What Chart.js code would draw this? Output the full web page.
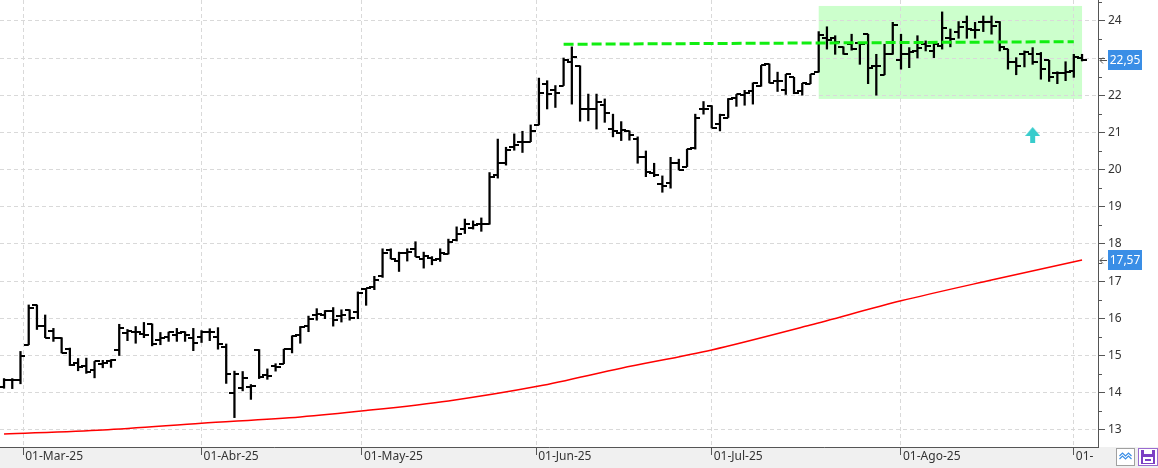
<!DOCTYPE html>
<html>
<head>
<meta charset="utf-8">
<title>Cotización</title>
<script src="https://cdn.jsdelivr.net/npm/chart.js@4.4.1/dist/chart.umd.min.js"></script>
<style>
    html, body { margin: 0; padding: 0; background: #fff; overflow: hidden; }
    canvas { display: block; }
</style>
</head>
<body>
<canvas id="priceCanvas" width="1158" height="468"></canvas>
<script>
// sessions shown on the chart (weekdays minus market holidays)
const firstDay = '2025-02-26';
const lastDay = '2025-09-02';
const holidays = ['2025-04-18', '2025-04-21', '2025-05-01'];
const monthNames = ['Ene', 'Feb', 'Mar', 'Abr', 'May', 'Jun', 'Jul', 'Ago', 'Sep', 'Oct', 'Nov', 'Dic'];

// daily OHLC, one value per session
const opens = [
    14.15, 14.35, 14.33, 15.29, 16.35, 15.8, 15.66, 15.48, 15.18, 14.8,
    14.73, 14.6, 14.78, 14.84, 15.15, 15.6, 15.64, 15.57, 15.85, 15.42,
    15.51, 15.54, 15.62, 15.48, 15.49, 15.63, 15.5, 15.23, 14.0, 14.12,
    14.15, 15.16, 14.47, 14.73, 14.78, 15.18, 15.56, 15.8, 16.1, 16.08,
    16.21, 16.05, 16.23, 16.17, 16.78, 16.84, 17.13, 17.84, 17.53, 17.75,
    17.87, 17.6, 17.62, 17.6, 17.73, 18.1, 18.4, 18.44, 18.53, 18.53,
    19.85, 20.17, 20.61, 20.75, 20.75, 21.2, 22.3, 22.14, 22.26, 22.9,
    22.79, 21.63, 21.63, 21.74, 21.09, 20.98, 21.04, 20.82, 20.35, 19.9,
    19.61, 19.63, 20.17, 20.08, 20.58, 21.63, 21.7, 21.22, 21.4, 21.93,
    22.0, 22.1, 22.24, 22.84, 22.37, 22.15, 22.48, 22.1, 22.31, 22.62,
    23.53, 23.53, 23.3, 23.39, 23.4, 23.64, 22.79, 22.55, 23.1, 22.94,
    23.1, 23.19, 23.37, 23.19, 23.33, 23.55, 23.69, 23.96, 23.75, 23.98,
    23.98, 23.98, 23.24, 22.88, 23.1, 23.12, 23.1, 22.94, 22.61, 22.61,
    22.65, 23.0
];
const highs = [
    14.38, 14.38, 15.11, 16.36, 16.36, 16.09, 15.73, 15.48, 15.2, 14.92,
    14.93, 14.84, 14.87, 14.89, 15.84, 15.7, 15.78, 15.89, 15.85, 15.62,
    15.63, 15.73, 15.64, 15.73, 15.67, 15.72, 15.75, 15.31, 14.58, 14.57,
    14.22, 15.16, 14.64, 14.78, 15.17, 15.53, 15.78, 16.06, 16.26, 16.21,
    16.29, 16.23, 16.23, 16.71, 16.8, 17.13, 17.87, 17.87, 17.78, 17.87,
    18.06, 17.78, 17.66, 17.87, 18.13, 18.46, 18.67, 18.62, 18.7, 19.92,
    20.82, 20.6, 20.96, 21.03, 21.2, 22.46, 22.39, 22.26, 23.0, 23.3,
    22.79, 22.03, 22.03, 21.9, 21.49, 21.29, 21.04, 20.88, 20.5, 20.17,
    19.83, 20.33, 20.28, 20.55, 21.49, 21.83, 21.72, 21.49, 21.91, 22.02,
    22.13, 22.33, 22.8, 22.84, 22.62, 22.56, 22.48, 22.32, 22.56, 23.71,
    23.84, 23.6, 23.3, 23.64, 23.42, 23.64, 23.1, 23.37, 23.96, 23.64,
    23.28, 23.6, 23.46, 23.42, 24.24, 23.78, 23.98, 24.13, 23.96, 24.13,
    24.13, 23.98, 23.24, 23.01, 23.19, 23.28, 23.15, 22.94, 22.63, 22.9,
    23.1, 23.1
];
const lows = [
    14.12, 14.11, 14.24, 15.29, 15.7, 15.48, 15.38, 15.07, 14.73, 14.59,
    14.52, 14.4, 14.67, 14.68, 15.0, 15.4, 15.33, 15.48, 15.26, 15.29,
    15.38, 15.38, 15.38, 15.13, 15.35, 15.4, 15.17, 14.25, 13.33, 14.05,
    13.82, 14.38, 14.36, 14.58, 14.78, 15.07, 15.33, 15.64, 15.95, 15.99,
    15.79, 15.9, 15.95, 15.99, 16.35, 16.77, 17.1, 17.6, 17.26, 17.54,
    17.66, 17.35, 17.44, 17.53, 17.73, 18.08, 18.28, 18.4, 18.34, 18.53,
    19.77, 20.12, 20.52, 20.46, 20.75, 21.2, 21.63, 21.67, 22.26, 21.76,
    21.3, 21.31, 21.09, 21.27, 20.88, 20.78, 20.79, 20.17, 19.81, 19.81,
    19.39, 19.5, 19.99, 20.08, 20.55, 21.49, 21.12, 21.04, 21.4, 21.7,
    21.73, 21.76, 22.24, 22.33, 22.1, 22.02, 22.04, 22.0, 22.31, 22.62,
    23.24, 23.1, 23.1, 23.21, 22.83, 22.31, 22.0, 22.55, 23.1, 22.7,
    22.74, 23.0, 23.19, 23.01, 23.24, 23.3, 23.53, 23.53, 23.53, 23.71,
    23.64, 23.19, 22.7, 22.55, 22.76, 22.83, 22.43, 22.37, 22.31, 22.39,
    22.48, 22.92
];
const closes = [
    14.33, 14.33, 15.0, 16.27, 15.8, 15.48, 15.48, 15.08, 14.75, 14.7,
    14.57, 14.84, 14.8, 14.88, 15.73, 15.67, 15.62, 15.55, 15.32, 15.47,
    15.62, 15.6, 15.54, 15.35, 15.63, 15.62, 15.32, 14.49, 14.5, 14.4,
    14.18, 14.43, 14.46, 14.68, 15.17, 15.53, 15.76, 15.98, 16.12, 16.2,
    15.95, 16.1, 16.0, 16.68, 16.81, 17.04, 17.75, 17.6, 17.75, 17.78,
    17.66, 17.68, 17.58, 17.75, 18.06, 18.26, 18.53, 18.52, 18.53, 19.79,
    20.19, 20.52, 20.66, 20.73, 21.03, 22.06, 22.03, 22.06, 22.95, 23.04,
    21.62, 21.63, 21.83, 21.52, 21.04, 21.07, 20.93, 20.35, 19.94, 19.85,
    19.55, 20.17, 19.99, 20.55, 21.39, 21.63, 21.12, 21.46, 21.91, 22.02,
    22.06, 22.33, 22.8, 22.33, 22.37, 22.56, 22.06, 22.32, 22.56, 23.62,
    23.48, 23.42, 23.12, 23.24, 23.38, 22.73, 22.79, 23.1, 23.89, 23.1,
    23.15, 23.28, 23.33, 23.37, 23.8, 23.5, 23.84, 23.78, 23.75, 23.98,
    23.87, 23.3, 22.88, 22.79, 23.15, 22.88, 22.7, 22.49, 22.6, 22.63,
    23.03, 22.95
];

// long moving average (red), read at a few sessions
const maDates = ['2025-02-26', '2025-03-14', '2025-04-01', '2025-04-17', '2025-05-02', '2025-05-16',
    '2025-06-02', '2025-06-16', '2025-07-01', '2025-07-17', '2025-08-01', '2025-08-18', '2025-09-02'];
const maValues = [12.89, 13.0, 13.18, 13.35, 13.52, 13.78, 14.18, 14.66, 15.15, 15.82, 16.47, 17.03, 17.57];

// green dashed resistance
const resistanceDates = ['2025-06-05', '2025-09-01'];
const resistanceValues = [23.37, 23.44];

// shaded range
const rangeDates = ['2025-07-18', '2025-09-02'];
const rangeValues = [21.9, 24.4];

// buy signal arrow
const signalDates = ['2025-08-25'];
const signalValues = [20.93];

const yMin = 12.54;
const yMax = 24.56;

function buildSessions() {
    const out = [];
    const d = new Date(firstDay + 'T12:00:00Z');
    const end = new Date(lastDay + 'T12:00:00Z');
    while (d <= end) {
        const iso = d.toISOString().slice(0, 10);
        const wd = d.getUTCDay();
        if (wd !== 0 && wd !== 6 && !holidays.includes(iso)) out.push(iso);
        d.setUTCDate(d.getUTCDate() + 1);
    }
    return out;
}
const sessions = buildSessions();
const idx = (date) => sessions.indexOf(date);

// the 1st of every month, placed between sessions by calendar time
function buildMonthTicks() {
    const list = [];
    const start = new Date(sessions[0] + 'T12:00:00Z');
    const end = new Date(sessions[sessions.length - 1] + 'T12:00:00Z');
    let m = new Date(Date.UTC(start.getUTCFullYear(), start.getUTCMonth() + 1, 1, 12));
    while (m <= end) {
        const iso = m.toISOString().slice(0, 10);
        const i = sessions.findIndex(s => s >= iso);
        let pos = i;
        if (sessions[i] !== iso) {
            const a = new Date(sessions[i - 1] + 'T12:00:00Z');
            const b = new Date(sessions[i] + 'T12:00:00Z');
            pos = i - 1 + (m - a) / (b - a);
        }
        list.push({ value: pos, label: '01-' + monthNames[m.getUTCMonth()] + '-' + String(m.getUTCFullYear()).slice(2) });
        m = new Date(Date.UTC(m.getUTCFullYear(), m.getUTCMonth() + 1, 1, 12));
    }
    return list;
}
const monthTicks = buildMonthTicks();

// small canvases used as point styles
function tickImage(left) {
    const c = document.createElement('canvas');
    c.width = 10; c.height = 2;
    const g = c.getContext('2d');
    g.fillStyle = '#000';
    g.fillRect(left ? 0 : 5, 0, 5, 2);
    return c;
}
function arrowImage() {
    const c = document.createElement('canvas');
    c.width = 15; c.height = 16;
    const g = c.getContext('2d');
    g.fillStyle = '#38cccc';
    g.beginPath();
    g.moveTo(7.5, 0); g.lineTo(15, 9); g.lineTo(0, 9); g.closePath();
    g.fill();
    g.fillRect(5, 9, 5, 7);
    return c;
}

const FONT = { family: '"Noto Sans", "DejaVu Sans", sans-serif', size: 12 };
const GRID = '#d9d9d9';
const AXIS = '#555';

// no extra room around the plot: the axes sit flush with the canvas edges
function noPadding(s) {
    s.paddingLeft = 0;
    s.paddingRight = 0;
    s.paddingTop = 0;
    s.paddingBottom = 0;
}

const decorations = {
    id: 'decorations',
    beforeDraw(chart) {
        const { ctx, scales: { x, y } } = chart;
        ctx.save();
        // bottom band
        ctx.fillStyle = '#f0f0f0';
        ctx.fillRect(0, chart.chartArea.bottom, chart.width, chart.height - chart.chartArea.bottom);
        // green range box
        const x1 = x.getPixelForValue(idx(rangeDates[0]));
        const x2 = x.getPixelForValue(idx(rangeDates[1]));
        const y1 = y.getPixelForValue(rangeValues[1]);
        const y2 = y.getPixelForValue(rangeValues[0]);
        ctx.fillStyle = '#ccffcc';
        ctx.fillRect(x1, y1, x2 - x1, y2 - y1);
        ctx.restore();
    },
    afterDraw(chart) {
        const { ctx, scales: { y }, chartArea } = chart;
        ctx.save();
        // minor ticks on the price axis
        ctx.strokeStyle = AXIS;
        ctx.lineWidth = 1;
        for (let v = 12.5; v < yMax; v += 1) {
            const py = Math.round(y.getPixelForValue(v)) + 0.5;
            if (py > chartArea.bottom) continue;
            ctx.beginPath();
            ctx.moveTo(chartArea.right, py);
            ctx.lineTo(chartArea.right + 4, py);
            ctx.stroke();
        }
        // last value labels
        const tags = [closes[closes.length - 1], maValues[maValues.length - 1]];
        tags.forEach(v => {
            const py = Math.round(y.getPixelForValue(v));
            ctx.fillStyle = '#3a8ee6';
            ctx.fillRect(chartArea.right + 10, py - 10, 34, 20);
            ctx.fillStyle = '#fff';
            ctx.font = '12px ' + FONT.family;
            ctx.textAlign = 'center';
            ctx.textBaseline = 'middle';
            ctx.fillText(v.toFixed(2).replace('.', ','), chartArea.right + 27, py + 1);
            ctx.strokeStyle = AXIS;
            ctx.beginPath();
            ctx.moveTo(chartArea.right + 9, py + 0.5);
            ctx.lineTo(chartArea.right + 2, py + 0.5);
            ctx.moveTo(chartArea.right + 5, py - 2.5);
            ctx.lineTo(chartArea.right + 2, py + 0.5);
            ctx.lineTo(chartArea.right + 5, py + 3.5);
            ctx.stroke();
        });
        // corner with the two buttons
        ctx.fillStyle = '#f0f0f0';
        ctx.fillRect(chartArea.right - 4, chartArea.bottom + 1, chart.width - chartArea.right + 4, chart.height - chartArea.bottom - 1);
        ctx.fillStyle = '#fff';
        ctx.strokeStyle = '#a0a0a0';
        ctx.fillRect(1116.5, 448.5, 18, 17);
        ctx.strokeRect(1116.5, 448.5, 18, 17);
        ctx.strokeStyle = '#3a8ee6';
        ctx.lineWidth = 1.2;
        [453, 456].forEach(yy => {
            ctx.beginPath();
            ctx.moveTo(1119.5, yy + 3);
            ctx.lineTo(1122.5, yy);
            ctx.lineTo(1125.5, yy + 3);
            ctx.lineTo(1128.5, yy);
            ctx.lineTo(1131.5, yy + 3);
            ctx.stroke();
        });
        ctx.lineWidth = 1;
        ctx.fillStyle = '#fff';
        ctx.strokeStyle = '#9a6ad0';
        ctx.fillRect(1138.5, 448.5, 19, 17);
        ctx.strokeRect(1138.5, 448.5, 19, 17);
        ctx.fillStyle = '#7b3fc4';
        ctx.fillRect(1141, 450, 14, 14);
        ctx.fillStyle = '#fff';
        ctx.fillRect(1144, 450, 8, 4);
        ctx.fillRect(1143, 457, 10, 6);
        ctx.fillStyle = '#7b3fc4';
        ctx.fillRect(1145, 459, 6, 2);
        ctx.restore();
    }
};

document.addEventListener('DOMContentLoaded', function() {
    const ctx = document.getElementById('priceCanvas').getContext('2d');
    new Chart(ctx, {
        type: 'bar',
        data: {
            datasets: [
                {
                    type: 'line',
                    data: resistanceDates.map((d, i) => ({ x: idx(d), y: resistanceValues[i] })),
                    borderColor: '#11ee11',
                    borderWidth: 3,
                    borderDash: [10, 4],
                    pointRadius: 0,
                    order: 0
                },
                {
                    type: 'line',
                    showLine: false,
                    data: signalDates.map((d, i) => ({ x: idx(d), y: signalValues[i] })),
                    pointStyle: arrowImage(),
                    pointRadius: 8,
                    order: 1
                },
                {
                    type: 'line',
                    showLine: false,
                    data: opens.map((v, i) => ({ x: i, y: v })),
                    pointStyle: tickImage(true),
                    pointRadius: 3,
                    order: 2
                },
                {
                    type: 'line',
                    showLine: false,
                    data: closes.map((v, i) => ({ x: i, y: v })),
                    pointStyle: tickImage(false),
                    pointRadius: 3,
                    order: 3
                },
                {
                    type: 'bar',
                    data: lows.map((v, i) => ({ x: i, y: [v, highs[i]] })),
                    backgroundColor: '#000',
                    barThickness: 1.6,
                    order: 4
                },
                {
                    type: 'line',
                    data: maDates.map((d, i) => ({ x: idx(d), y: maValues[i] })),
                    borderColor: '#ff0000',
                    borderWidth: 1.5,
                    pointRadius: 0,
                    tension: 0.3,
                    order: 5
                }
            ]
        },
        options: {
            responsive: false,
            animation: false,
            events: [],
            layout: { padding: 0, autoPadding: false },
            plugins: {
                legend: { display: false },
                tooltip: { enabled: false }
            },
            scales: {
                x: {
                    type: 'linear',
                    min: -0.49,
                    max: sessions.length + 0.94,
                    offset: false,
                    grid: { offset: false, color: GRID, tickColor: AXIS, tickLength: 8 },
                    border: { color: AXIS, dash: [4, 3] },
                    afterBuildTicks: s => { s.ticks = monthTicks.map(t => ({ value: t.value })); },
                    afterFit: s => { s.height = 21; noPadding(s); },
                    ticks: {
                        autoSkip: false,
                        maxRotation: 0,
                        align: 'start',
                        labelOffset: 2,
                        padding: -6,
                        color: '#333',
                        font: FONT,
                        callback: (v, i) => monthTicks[i].label
                    }
                },
                y: {
                    position: 'right',
                    min: yMin,
                    max: yMax,
                    grid: { color: GRID, tickColor: AXIS, tickLength: 7 },
                    border: { color: AXIS, dash: [4, 3] },
                    afterFit: s => { s.width = 60; noPadding(s); },
                    ticks: {
                        stepSize: 1,
                        includeBounds: false,
                        padding: 3,
                        color: '#333',
                        font: FONT,
                        callback: v => v
                    }
                }
            }
        },
        plugins: [decorations]
    });
});
</script>
</body>
</html>
